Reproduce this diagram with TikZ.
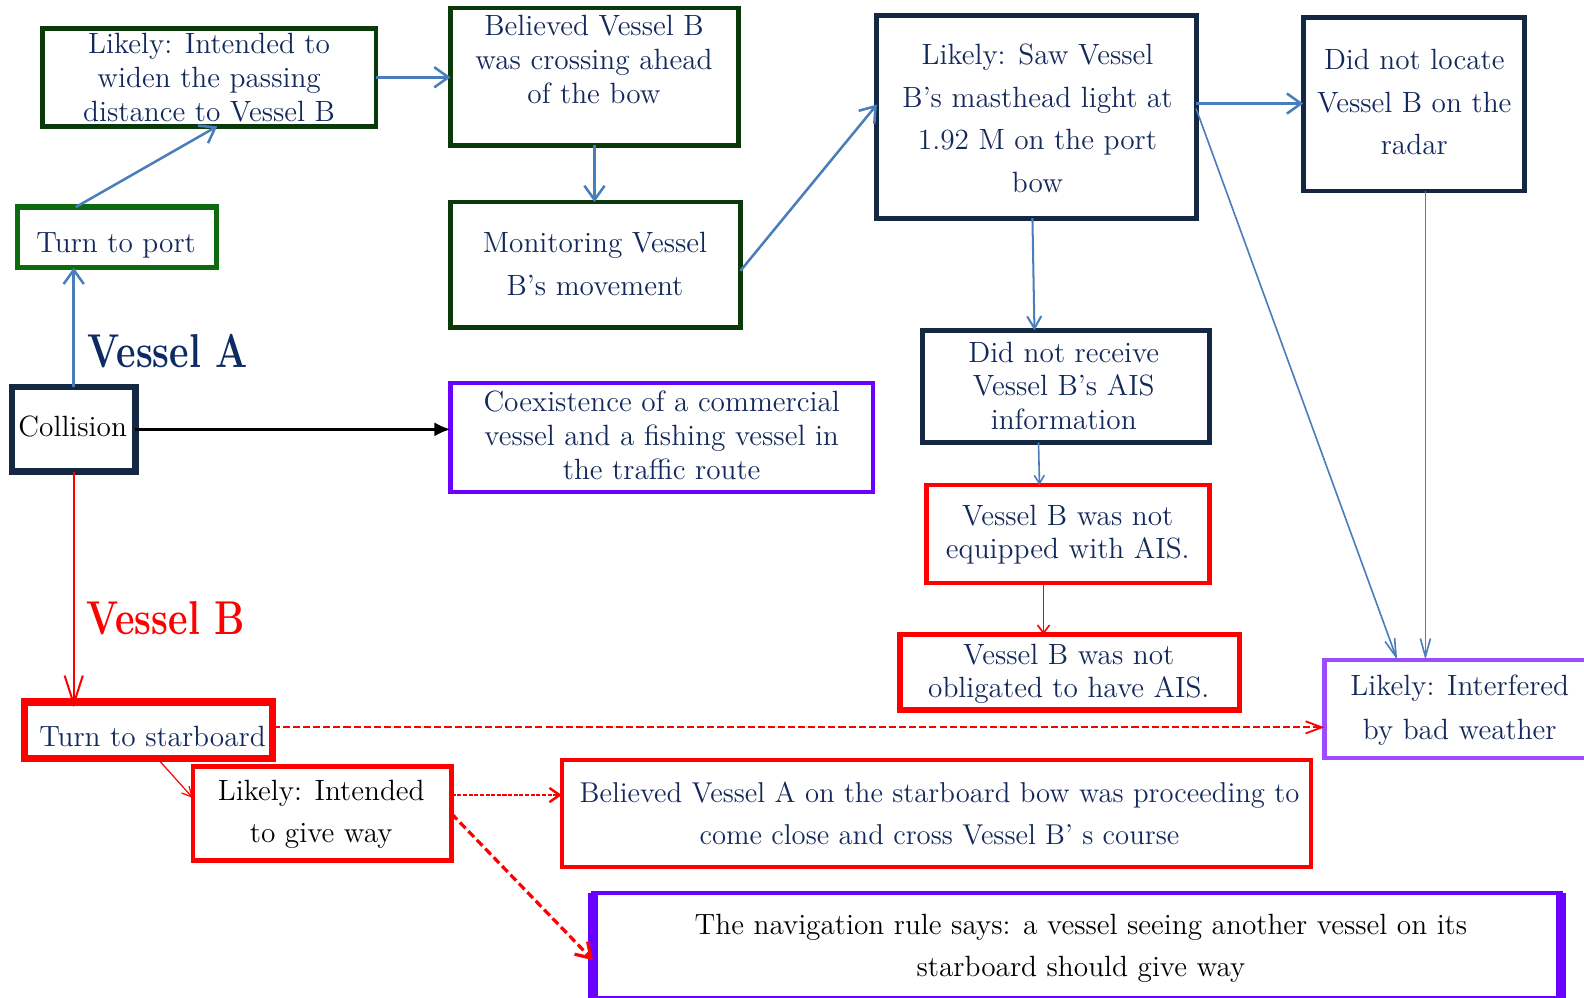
\documentclass[tikz,border=0pt]{standalone}
\usepackage{graphicx}
\usetikzlibrary{arrows.meta}
\definecolor{navyT}{HTML}{13285B}
\definecolor{navyB}{HTML}{152843}
\definecolor{dgreen}{HTML}{0A3A0A}
\definecolor{lgreen}{HTML}{0E6A0E}
\definecolor{blueA}{HTML}{4A7EBB}
\definecolor{purpA}{HTML}{6A00FF}
\definecolor{purpB}{HTML}{9C4BFF}
\definecolor{redA}{HTML}{FF0000}
\definecolor{labA}{HTML}{0D2B63}
\begin{document}
\begin{tikzpicture}[x=0.5pt,y=-0.5pt,
  box/.style={draw, inner sep=0pt, outer sep=0pt},
  tx/.style={align=center, inner sep=0pt, text=navyT, font=\fontsize{14.5}{16.75}\selectfont},
  txl/.style={tx, font=\fontsize{14.5}{21}\selectfont},
  bla/.style={draw=blueA, line width=1.25pt, -{Straight Barb[length=7pt,width=10pt]}},
  blt/.style={draw=blueA, line width=0.8pt, -{Straight Barb[length=9pt,width=5pt]}},
  bigl/.style={font=\fontsize{23.5}{26}\selectfont\bfseries, inner sep=0pt}]
\fill[white] (0,0) rectangle (1568,987);
\useasboundingbox (0,0) rectangle (1568,987);

% boxes
\node[box, draw=dgreen, line width=2.2pt, minimum width=165pt, minimum height=48.5pt] (a1) at (207,76.5) {};
\node[box, draw=lgreen, line width=2.6pt, minimum width=98.5pt, minimum height=30pt] (tp) at (115.5,235) {};
\node[box, draw=navyB, line width=3.3pt, minimum width=61pt, minimum height=42pt] (col) at (73,425) {};
\node[box, draw=dgreen, line width=2.2pt, minimum width=142.5pt, minimum height=68pt] (b6) at (588.5,76) {};
\node[box, draw=dgreen, line width=2.2pt, minimum width=143.5pt, minimum height=62pt] (b7) at (589.5,262) {};
\node[box, draw=purpA, line width=2.3pt, minimum width=209pt, minimum height=54pt] (b8) at (655,433) {};
\node[box, draw=navyB, line width=2.4pt, minimum width=158pt, minimum height=100.5pt] (b9) at (1026,115.5) {};
\node[box, draw=navyB, line width=2.4pt, minimum width=109.5pt, minimum height=86pt] (b10) at (1399.5,103) {};
\node[box, draw=navyB, line width=2.4pt, minimum width=142pt, minimum height=55.5pt] (b11) at (1055,382.5) {};
\node[box, draw=redA, line width=2.3pt, minimum width=140pt, minimum height=48.5pt] (b12) at (1057,528.5) {};
\node[box, draw=redA, line width=2.7pt, minimum width=168pt, minimum height=37.5pt] (b13) at (1059,665.5) {};
\node[box, draw=purpB, line width=2.1pt, minimum width=134.5pt, minimum height=48.5pt] (b14) at (1445.5,701.5) {};
\node[box, draw=redA, line width=3.6pt, minimum width=123pt, minimum height=28pt] (ts) at (147,723) {};
\node[box, draw=redA, line width=2.3pt, minimum width=128pt, minimum height=46.5pt] (b16) at (319,805.5) {};
\node[box, draw=redA, line width=2.1pt, minimum width=371pt, minimum height=53pt] (b17) at (927,805) {};
\node[box, draw=purpA, line width=2.1pt, minimum width=479pt, minimum height=52pt] (b18) at (1066,936) {};
\draw[purpA, line width=5pt] (b18.north west) -- (b18.south west);
\draw[purpA, line width=5pt] (b18.north east) -- (b18.south east);

% texts
\node[tx] (a1t) at (207,77) {Likely: Intended to\\widen the passing\\distance to Vessel B};
\node[tx] (tpt) at (115,243) {Turn to port};
\node[tx, text=black] (colt) at (72,422) {Collision};
\node[tx, font=\fontsize{14.5}{17}\selectfont] (b6t) at (588,59) {Believed Vessel B\\was crossing ahead\\of the bow};
\node[txl, font=\fontsize{14.5}{21.5}\selectfont] (b7t) at (589,261.5) {Monitoring Vessel\\B's movement};
\node[tx, font=\fontsize{14.5}{17}\selectfont] (b8t) at (655,431) {Coexistence of a commercial\\vessel and a fishing vessel in\\the traffic route};
\node[txl] (b9t) at (1027,117) {Likely: Saw Vessel\\B's masthead light at\\1.92 M on the port\\bow};
\node[txl] (b10t) at (1400,101) {Did not locate\\Vessel B on the\\radar};
\node[tx] (b11t) at (1053,382) {Did not receive\\Vessel B's AIS\\information};
\node[tx, font=\fontsize{14.5}{16.25}\selectfont] (b12t) at (1057,529) {Vessel B was not\\equipped with AIS.};
\node[tx] (b13t) at (1058,667) {Vessel B was not\\obligated to have AIS.};
\node[txl, font=\fontsize{14.5}{21.5}\selectfont] (b14t) at (1445,703) {Likely: Interfered\\by bad weather};
\node[tx] (tst) at (151,729) {Turn to starboard};
\node[txl, text=black] (b16t) at (318,806) {Likely: Intended\\to give way};
\node[txl, font=\fontsize{14.2}{20.5}\selectfont] (b17t) at (930,805.5) {Believed Vessel A on the starboard bow was proceeding to\\come close and cross Vessel B' s course};
\node[txl, text=black] (b18t) at (1070,938.5) {The navigation rule says: a vessel seeing another vessel on its\\starboard should give way};

\node[bigl, text=labA] (va) at (166,348) {\scalebox{0.8}[1]{Vessel A}};
\node[bigl, text=redA] (vb) at (164,612) {\scalebox{0.8}[1]{Vessel B}};

% connectors
\coordinate (p1) at ([yshift=6.5pt]b9.east);
\coordinate (p3) at ([yshift=1.5pt]ts.east);
\coordinate (p4) at ([yshift=9.25pt]b16.east);
\coordinate (p5) at ([xshift=5.75pt]b10.south);

\draw[bla] (col.north) -- (col.north |- tp.south);
\draw[bla] ([xshift=29pt]tp.north west) -- ([xshift=4pt]a1.south);
\draw[bla] (a1.east) -- (a1.east -| b6.west);
\draw[bla] (b6.south) -- (b6.south |- b7.north);
\draw[bla] ([yshift=-3pt]b7.east) -- ([yshift=6pt]b9.west);
\draw[bla] (p1) -- (p1 -| b10.west);
\draw[draw=blueA, line width=1pt, -{Straight Barb[length=6pt,width=7pt]}] ([xshift=-2pt]b9.south) -- ([xshift=-15.5pt]b11.north);
\draw[blt] ([yshift=4pt]b9.east) -- ([xshift=36pt]b14.north west);
\draw[blt] (p5) -- (p5 |- b14.north);
\draw[draw=blueA, line width=0.8pt, -{Straight Barb[length=4pt,width=5pt]}] ([xshift=-13.5pt]b11.south) -- ([xshift=-14pt]b12.north);

\draw[redA, line width=0.8pt, -{Straight Barb[length=4pt,width=6pt]}] ([xshift=-12pt]b12.south) -- ([xshift=-13pt]b13.north);
\draw[black, line width=1.2pt, -{Latex[length=8pt,width=7pt]}] (col.east) -- (col.east -| b8.west);
\draw[redA, line width=1pt, -{Straight Barb[length=14pt,width=9pt]}] (col.south) -- ([yshift=-2.5pt]col.south |- ts.north);
\draw[redA, line width=0.9pt, dash pattern=on 3.5pt off 1.5pt, -{Straight Barb[length=8pt,width=6pt]}] (p3) -- (p3 -| b14.west);
\draw[redA, line width=0.6pt, -{Straight Barb[length=5pt,width=5pt]}] ([xshift=4.5pt]ts.south) -- ([yshift=7.75pt]b16.west);
\draw[redA, line width=1.2pt, dash pattern=on 2pt off 0.8pt, -{Straight Barb[length=5pt,width=7pt]}] (p4) -- (p4 -| b17.west);
\draw[redA, line width=1.6pt, dash pattern=on 4pt off 2pt, -{Straight Barb[length=7pt,width=9pt]}] (b16.east) -- ([yshift=-7.25pt]b18.west);
\end{tikzpicture}
\end{document}
